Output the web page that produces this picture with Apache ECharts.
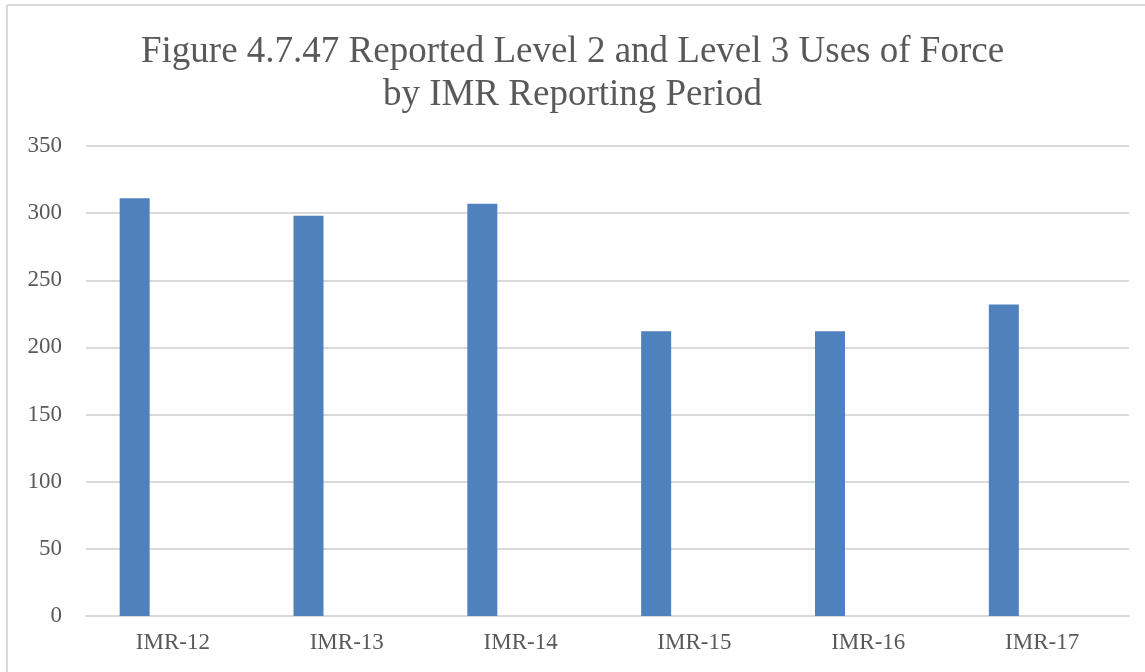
<!DOCTYPE html>
<html>
<head>
<meta charset="utf-8">
<script src="https://cdn.jsdelivr.net/npm/echarts@6/dist/echarts.min.js"></script>
<style>
  html, body { margin: 0; padding: 0; background: #fff; }
  #chart { width: 1145px; height: 672px; }
</style>
</head>
<body>
<div id="chart"></div>
<script>
const categories = ['IMR-12', 'IMR-13', 'IMR-14', 'IMR-15', 'IMR-16', 'IMR-17'];
const usesOfForce = [311, 298, 307, 212, 212, 232];
// second (empty) series in the source workbook, keeps bars shifted left
const emptySeries = [null, null, null, null, null, null];

const serif = '"Liberation Serif", "DejaVu Serif", serif';
const textGray = '#595959';
const lineGray = '#d9d9d9';

const chart = echarts.init(document.getElementById('chart'));

chart.setOption({
    animation: false,
    backgroundColor: '#fff',
    title: {
        text: 'Figure 4.7.47 Reported Level 2 and Level 3 Uses of Force\nby IMR Reporting Period',
        left: 'center',
        top: 26,
        textStyle: {
            fontFamily: serif,
            fontSize: 37,
            fontWeight: 'normal',
            color: textGray,
            lineHeight: 43
        }
    },
    graphic: [
        { type: 'line', shape: { x1: 7, y1: 5, x2: 1145, y2: 5 }, style: { stroke: lineGray, lineWidth: 2 } },
        { type: 'line', shape: { x1: 7, y1: 5, x2: 7, y2: 672 }, style: { stroke: lineGray, lineWidth: 2 } }
    ],
    grid: { left: 86, right: 16, top: 146, bottom: 56 },
    xAxis: {
        type: 'category',
        data: categories,
        axisLine: { show: true, lineStyle: { color: lineGray, width: 2 } },
        axisTick: { show: false },
        axisLabel: { fontFamily: serif, fontSize: 23, color: textGray, margin: 15 }
    },
    yAxis: {
        type: 'value',
        min: 0,
        max: 350,
        interval: 50,
        axisLine: { show: false },
        axisTick: { show: false },
        axisLabel: { fontFamily: serif, fontSize: 23, color: textGray, margin: 24 },
        splitLine: { lineStyle: { color: lineGray, width: 2 } }
    },
    series: [
        {
            type: 'bar',
            data: usesOfForce,
            barWidth: 30,
            barGap: '155%',
            itemStyle: { color: '#4f81bd' }
        },
        {
            type: 'bar',
            data: emptySeries,
            barWidth: 30,
            itemStyle: { color: '#c0504d' }
        }
    ]
});
</script>
</body>
</html>
